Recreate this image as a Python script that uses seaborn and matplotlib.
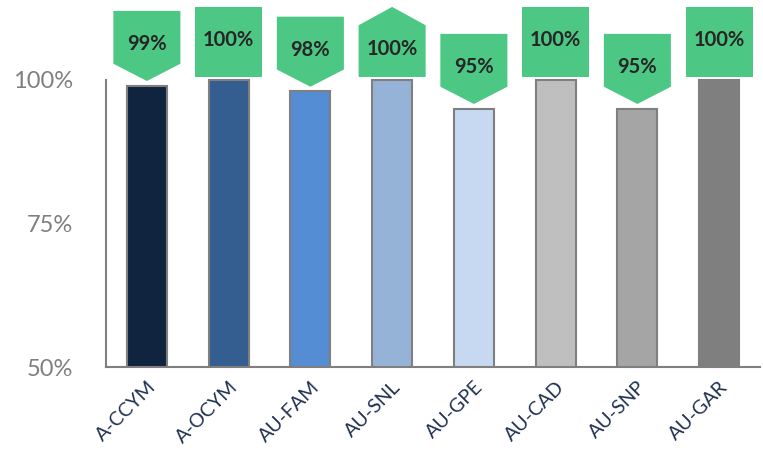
"""Completion rate by group with callout labels."""

import matplotlib
matplotlib.use("Agg")
import matplotlib.pyplot as plt
import pandas as pd
import seaborn as sns
from matplotlib.patches import Polygon
from matplotlib.ticker import FixedLocator, FuncFormatter

categories = ["A-CCYM", "A-OCYM", "AU-FAM", "AU-SNL", "AU-GPE", "AU-CAD", "AU-SNP", "AU-GAR"]
values = [99, 100, 98, 100, 95, 100, 95, 100]
callout_shapes = ["down", "rect", "down", "up", "down", "rect", "down", "rect"]
bar_colors = ["#10243F", "#345E8F", "#548DD4", "#95B3D7", "#C6D9F0", "#BFBFBF", "#A5A5A5", "#7F7F7F"]
y_ticks = [50, 75, 100]

GREEN = "#4CC784"

sns.set_theme(style="white")
plt.rcParams["font.family"] = ["Lato", "DejaVu Sans"]

df = pd.DataFrame({"group": categories, "pct": values})

fig = plt.figure(figsize=(7.63, 4.54), dpi=100)
ax = fig.add_axes([106 / 763, 1 - 367 / 454, (760 - 106) / 763, 367 / 454])

sns.barplot(
    data=df, x="group", y="pct", hue="group", palette=bar_colors, saturation=1,
    legend=False, width=0.49, edgecolor="#7F7F7F", linewidth=1.5, ax=ax,
)

ax.set_xlim(-0.5, len(categories) - 0.5)
ax.set_ylim(50, 113.9)

# callout boxes above each bar
w = 0.41  # half width in category units
h = 12.2  # total height in %
for i, (v, shape) in enumerate(zip(values, callout_shapes)):
    if shape == "down":
        tip = v + 0.8
        pts = [(i - w, tip + h), (i + w, tip + h), (i + w, tip + 3.0), (i, tip), (i - w, tip + 3.0)]
        ty = tip + h / 2 + 0.3
    elif shape == "up":
        base = v + 0.5
        pts = [(i - w, base), (i + w, base), (i + w, base + h - 3.2), (i, base + h), (i - w, base + h - 3.2)]
        ty = base + h / 2 - 1.2
    else:
        base = v + 0.5
        pts = [(i - w, base), (i + w, base), (i + w, base + h), (i - w, base + h)]
        ty = base + h / 2 + 0.3
    ax.add_patch(Polygon(pts, closed=True, facecolor=GREEN, edgecolor="none", zorder=3, clip_on=False))
    ax.text(i, ty, f"{v}%", ha="center", va="center", fontsize=14.5, fontweight="bold",
            color="#262626", zorder=4)

ax.yaxis.set_major_locator(FixedLocator(y_ticks))
ax.yaxis.set_major_formatter(FuncFormatter(lambda x, _: f"{x:.0f}%"))
ax.tick_params(axis="y", length=0, pad=24, labelsize=17, labelcolor="#7F7F7F")
ax.tick_params(axis="x", length=0, pad=8)
plt.setp(ax.get_xticklabels(), rotation=45, ha="right", rotation_mode="anchor",
         fontsize=14, color="#1F3050")

ax.set_xlabel("")
ax.set_ylabel("")
for side in ["top", "right"]:
    ax.spines[side].set_visible(False)
ax.spines["left"].set_bounds(50, 100)
for side in ["left", "bottom"]:
    ax.spines[side].set_color("#7F7F7F")
    ax.spines[side].set_linewidth(1.5)
ax.grid(False)

fig.savefig("out.png", dpi=100)
